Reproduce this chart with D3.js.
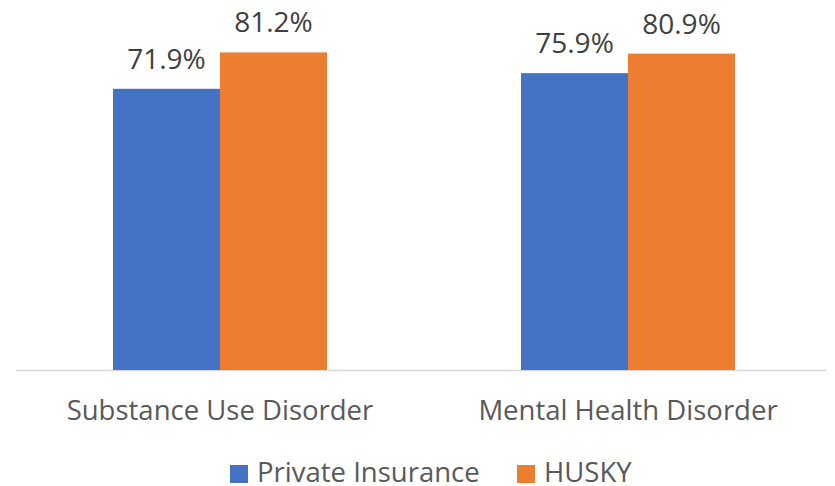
<!DOCTYPE html>
<meta charset="utf-8">
<style>
body { margin: 0; background: #fff; }
text { font-family: "Open Sans", sans-serif; }
</style>
<body>
<svg width="835" height="486"></svg>
<script src="https://d3js.org/d3.v7.min.js"></script>
<script>

var categories = ["Substance Use Disorder", "Mental Health Disorder"];
var seriesNames = ["Private Insurance", "HUSKY"];
var privateValues = [71.9, 75.9];
var huskyValues = [81.2, 80.9];
var colors = ["#4472C4", "#ED7D31"];

var svg = d3.select("svg"),
    width = +svg.attr("width"),
    height = +svg.attr("height");

var baseline = 370;

var y = d3.scaleLinear()
    .domain([0, 90])
    .range([baseline, 18]);

var x0 = d3.scaleBand()
    .domain(categories)
    .range([16, 832])
    .paddingInner(0.4755)
    .paddingOuter(0.2377);

var x1 = d3.scaleBand()
    .domain(seriesNames)
    .range([0, x0.bandwidth()]);

var color = d3.scaleOrdinal()
    .domain(seriesNames)
    .range(colors);

var rows = categories.map(function(c, i) {
  return { category: c, values: [
    { name: seriesNames[0], value: privateValues[i] },
    { name: seriesNames[1], value: huskyValues[i] }
  ]};
});

// axis line
svg.append("line")
    .attr("x1", 16)
    .attr("x2", 826)
    .attr("y1", baseline + 0.5)
    .attr("y2", baseline + 0.5)
    .attr("stroke", "#d9d9d9")
    .attr("stroke-width", 1.5);

var groups = svg.selectAll("g.group")
    .data(rows)
  .enter().append("g")
    .attr("class", "group")
    .attr("transform", function(d) { return "translate(" + x0(d.category) + ",0)"; });

groups.selectAll("rect")
    .data(function(d) { return d.values; })
  .enter().append("rect")
    .attr("x", function(d) { return x1(d.name); })
    .attr("width", x1.bandwidth())
    .attr("y", function(d) { return y(d.value); })
    .attr("height", function(d) { return baseline - y(d.value); })
    .attr("fill", function(d) { return color(d.name); });

groups.selectAll("text.val")
    .data(function(d) { return d.values; })
  .enter().append("text")
    .attr("class", "val")
    .attr("x", function(d) { return x1(d.name) + x1.bandwidth() / 2; })
    .attr("y", function(d) { return y(d.value) - 20; })
    .attr("text-anchor", "middle")
    .attr("font-size", 28)
    .attr("fill", "#404040")
    .text(function(d) { return d.value.toFixed(1) + "%"; });

// category labels
svg.selectAll("text.cat")
    .data(categories)
  .enter().append("text")
    .attr("class", "cat")
    .attr("x", function(d) { return x0(d) + x0.bandwidth() / 2; })
    .attr("y", 420)
    .attr("text-anchor", "middle")
    .attr("font-size", 27.5)
    .attr("fill", "#595959")
    .text(function(d) { return d; });

// legend
var legendX = [230, 517];
var legend = svg.selectAll("g.legend")
    .data(seriesNames)
  .enter().append("g")
    .attr("class", "legend")
    .attr("transform", function(d, i) { return "translate(" + legendX[i] + ",465)"; });

legend.append("rect")
    .attr("width", 18)
    .attr("height", 18)
    .attr("fill", function(d) { return color(d); });

legend.append("text")
    .attr("x", 27)
    .attr("y", 17)
    .attr("font-size", 27.5)
    .attr("fill", "#595959")
    .text(function(d) { return d; });

</script>
</body>
